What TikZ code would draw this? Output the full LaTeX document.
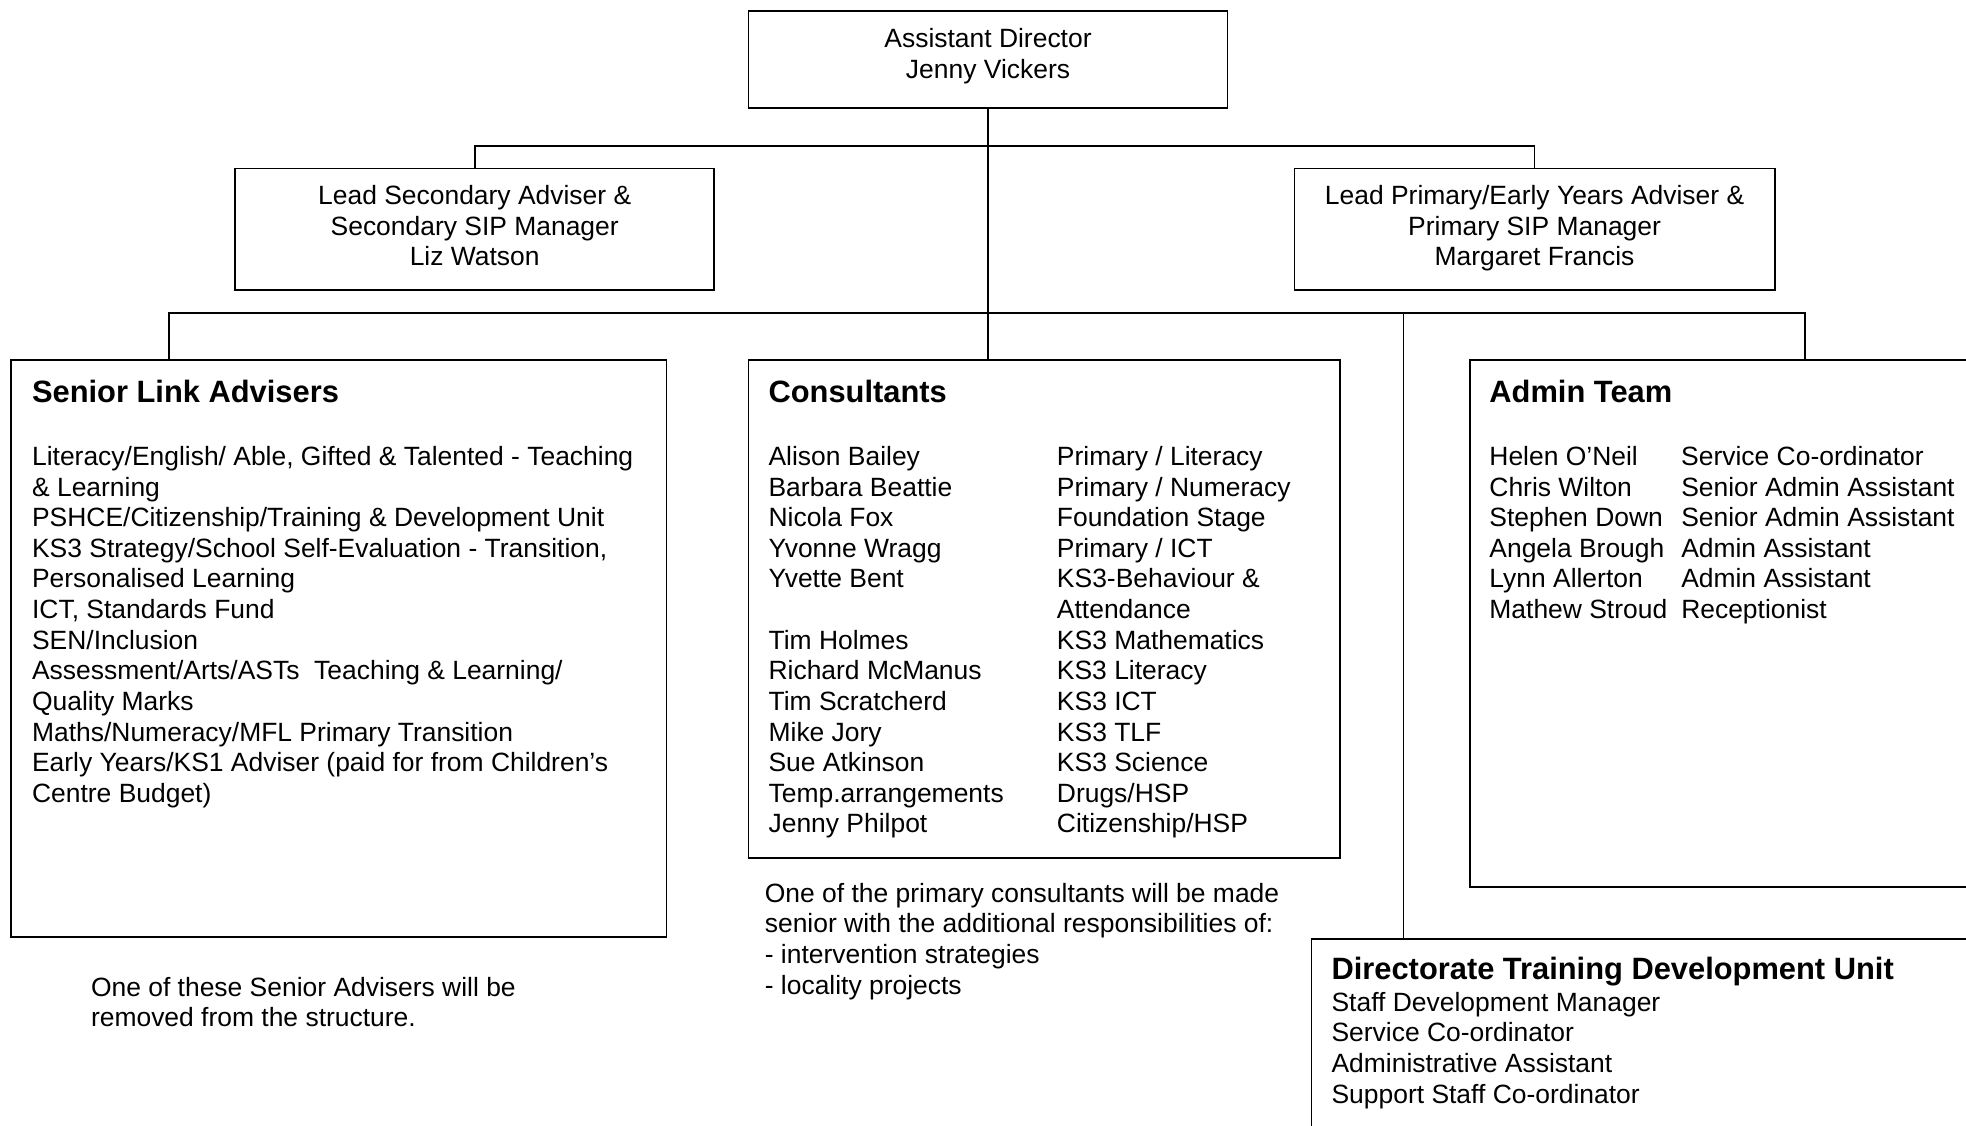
\documentclass[tikz,border=0pt]{standalone}
\usepackage{fontspec}
\setmainfont{Liberation Sans}
\usepackage{tikz}
\usetikzlibrary{positioning}

\newcommand{\ttl}[1]{{\fontsize{14}{16}\selectfont\bfseries #1}}
\newcommand{\rows}[2][@{}l@{}]{\begin{tabular}[t]{#1}#2\end{tabular}}

\begin{document}
\begin{tikzpicture}[thick, font=\fontsize{12}{13.9}\selectfont,
  box/.style={draw, rectangle, inner sep=0pt},
  txt/.style={anchor=base west, inner sep=0pt},
  mid/.style={anchor=base, inner sep=0pt}]
\useasboundingbox (0,0) rectangle (31.36,-17.96);

% managers
\node[box, minimum width=7.64cm, minimum height=1.54cm] (ad) at (15.76,-0.95) {};
\node[box, minimum width=7.64cm, minimum height=1.94cm] (lsa) [below left=0.94cm and 0.52cm of ad] {};
\node[box, minimum width=7.66cm, minimum height=1.94cm] (lpa) [below right=0.94cm and 1.04cm of ad] {};
\node[mid] (adText) at ([yshift=-0.59cm]ad.north) {\rows[@{}c@{}]{Assistant Director\\Jenny Vickers}};
\node[mid] (lsaText) at ([yshift=-0.59cm]lsa.north) {\rows[@{}c@{}]{Lead Secondary Adviser \&\\Secondary SIP Manager\\Liz Watson}};
\node[mid] (lpaText) at ([yshift=-0.59cm]lpa.north) {\rows[@{}c@{}]{Lead Primary/Early Years Adviser \&\\Primary SIP Manager\\Margaret Francis}};

% teams
\node[box, minimum width=9.44cm, minimum height=7.94cm] (cons) [below=4.0cm of ad.south west, anchor=north west] {};
\node[box, minimum width=10.46cm, minimum height=9.2cm] (sla) [left=1.28cm of cons.north west, anchor=north east] {};
\node[box, minimum width=8.7cm, minimum height=8.4cm] (admin) [right=2.04cm of cons.north east, anchor=north west] {};
\node[box, minimum width=11.2cm, minimum height=3.6cm] (dtdu) [right=10.26cm of sla.south east, anchor=north west] {};

% senior link advisers
\node[txt] (slaT) at ([shift={(0.34,-0.68)}]sla.north west) {\ttl{Senior Link Advisers}};
\node[txt] (slaL) at ([shift={(0.34,-1.69)}]sla.north west) {\rows{Literacy/English/ Able, Gifted \& Talented - Teaching\\
\& Learning\\
PSHCE/Citizenship/Training \& Development Unit\\
KS3 Strategy/School Self-Evaluation - Transition,\\
Personalised Learning\\
ICT, Standards Fund\\
SEN/Inclusion\\
Assessment/Arts/ASTs\ \ Teaching \& Learning/\\
Quality Marks\\
Maths/Numeracy/MFL Primary Transition\\
Early Years/KS1 Adviser (paid for from Children’s\\
Centre Budget)}};
\node[txt] (slaN) at ([shift={(1.28,-0.93)}]sla.south west) {\rows{One of these Senior Advisers will be\\removed from the structure.}};

% consultants
\node[txt] (consT) at ([shift={(0.32,-0.68)}]cons.north west) {\ttl{Consultants}};
\node[txt] (consL) at ([shift={(0.32,-1.69)}]cons.north west) {\rows[@{}p{4.6cm}@{}l@{}]{Alison Bailey & Primary / Literacy\\
Barbara Beattie & Primary / Numeracy\\
Nicola Fox & Foundation Stage\\
Yvonne Wragg & Primary / ICT\\
Yvette Bent & KS3-Behaviour \&\\
 & Attendance\\
Tim Holmes & KS3 Mathematics\\
Richard McManus & KS3 Literacy\\
Tim Scratcherd & KS3 ICT\\
Mike Jory & KS3 TLF\\
Sue Atkinson & KS3 Science\\
Temp.arrangements & Drugs/HSP\\
Jenny Philpot & Citizenship/HSP}};
\node[txt] (consN) at ([shift={(0.26,-0.69)}]cons.south west) {\rows{One of the primary consultants will be made\\
senior with the additional responsibilities of:\\
- intervention strategies\\
- locality projects}};

% admin team
\node[txt] (adminT) at ([shift={(0.31,-0.68)}]admin.north west) {\ttl{Admin Team}};
\node[txt] (adminL) at ([shift={(0.31,-1.69)}]admin.north west) {\rows[@{}p{3.06cm}@{}l@{}]{Helen O’Neil & Service Co-ordinator\\
Chris Wilton & Senior Admin Assistant\\
Stephen Down & Senior Admin Assistant\\
Angela Brough & Admin Assistant\\
Lynn Allerton & Admin Assistant\\
Mathew Stroud & Receptionist}};

% training unit
\node[txt] (dtduT) at ([shift={(0.32,-0.66)}]dtdu.north west) {\ttl{Directorate Training Development Unit}};
\node[txt] (dtduL) at ([shift={(0.32,-1.17)}]dtdu.north west) {\rows{Staff Development Manager\\
Service Co-ordinator\\
Administrative Assistant\\
Support Staff Co-ordinator}};

% connectors
\coordinate (bus1) at ([yshift=-0.6cm]ad.south);
\coordinate (bus2) at ([yshift=-3.26cm]ad.south);
\coordinate (slaTap) at ([xshift=2.54cm]sla.north west);
\coordinate (admTap) at ([xshift=5.36cm]admin.north west);
\coordinate (dtdTap) at ([xshift=1.48cm]dtdu.north west);
\draw (ad.south) -- (cons.north -| ad.south);
\draw (lsa.north) |- (bus1) -| (lpa.north);
\draw (slaTap) |- (bus2) -| (admTap);
\draw (dtdTap) -- (dtdTap |- bus2);
\end{tikzpicture}
\end{document}
